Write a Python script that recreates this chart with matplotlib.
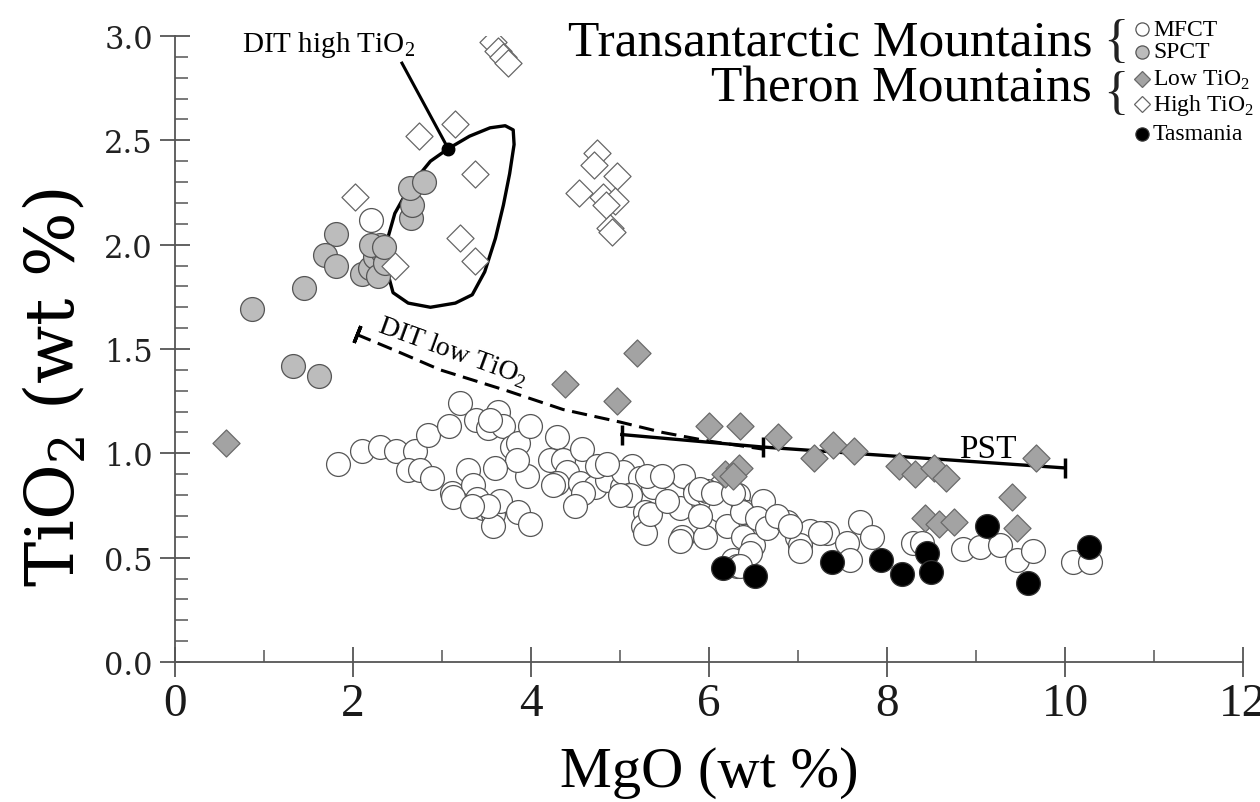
import numpy as np
import matplotlib
matplotlib.use('Agg')
import matplotlib.pyplot as plt
from matplotlib.ticker import MultipleLocator, FormatStrFormatter

plt.rcParams['font.family'] = 'Liberation Serif'
plt.rcParams['mathtext.fontset'] = 'custom'
plt.rcParams['mathtext.rm'] = 'Liberation Serif'

# MgO, TiO2 (wt %) for each suite
mfct_mgo = [1.83, 2.10, 2.30, 2.48, 2.70, 2.62, 2.75, 2.89, 2.84, 3.08, 3.20, 3.38, 3.52, 3.63,
            3.69, 3.79, 3.85, 3.99, 3.96, 3.84, 3.60, 3.29, 3.11, 3.35, 3.39, 3.46, 3.57, 3.65,
            3.85, 3.99, 3.57, 3.52, 4.29, 4.21, 4.36, 4.57, 4.40, 4.29, 4.55, 4.72, 4.85, 4.74,
            4.58, 4.49, 5.02, 5.13, 5.03, 5.22, 5.11, 5.28, 5.26, 5.28, 5.48, 5.60, 5.71, 5.67,
            5.84, 5.99, 6.12, 6.33, 6.29, 6.43, 6.61, 6.61, 5.70, 5.96, 6.12, 6.20, 6.38, 6.49,
            6.27, 6.46, 3.54, 4.25, 5.00, 5.37, 5.34, 5.67, 5.98, 6.37, 6.31, 4.85, 5.30, 5.47,
            5.90, 6.04, 5.53, 5.90, 6.27, 6.54, 6.65, 6.88, 6.99, 7.13, 7.33, 7.02, 7.55, 7.70,
            7.83, 7.58, 8.29, 8.39, 8.85, 9.04, 9.27, 9.46, 9.64, 10.09, 10.28, 6.35, 6.76, 6.91,
            7.25, 7.02, 2.20, 3.12, 3.34]
mfct_tio2 = [0.95, 1.01, 1.03, 1.01, 1.01, 0.92, 0.92, 0.88, 1.09, 1.13, 1.24, 1.16, 1.12, 1.20,
             1.13, 1.03, 1.05, 1.13, 0.89, 0.97, 0.93, 0.92, 0.81, 0.85, 0.78, 0.74, 0.71, 0.77,
             0.72, 0.66, 0.65, 0.75, 1.08, 0.97, 0.97, 1.02, 0.91, 0.86, 0.86, 0.84, 0.87, 0.94,
             0.81, 0.75, 0.84, 0.94, 0.91, 0.88, 0.80, 0.72, 0.65, 0.62, 0.84, 0.80, 0.89, 0.74,
             0.81, 0.80, 0.84, 0.80, 0.75, 0.72, 0.77, 0.65, 0.60, 0.60, 0.73, 0.65, 0.60, 0.56,
             0.49, 0.52, 1.16, 0.85, 0.80, 0.84, 0.71, 0.58, 0.82, 0.72, 0.46, 0.95, 0.89, 0.89,
             0.83, 0.81, 0.77, 0.70, 0.81, 0.69, 0.64, 0.67, 0.60, 0.63, 0.62, 0.56, 0.57, 0.67,
             0.60, 0.49, 0.57, 0.57, 0.54, 0.55, 0.56, 0.49, 0.53, 0.48, 0.48, 0.46, 0.70, 0.65,
             0.62, 0.53, 2.12, 0.79, 0.75]

spct_mgo = [0.87, 1.45, 1.33, 1.62, 1.81, 1.68, 1.81, 2.10, 2.19, 2.25, 2.33, 2.28, 2.36, 2.30,
            2.20, 2.65, 2.66, 2.64, 2.80, 2.35]
spct_tio2 = [1.69, 1.79, 1.42, 1.37, 2.05, 1.95, 1.90, 1.86, 1.89, 1.94, 1.97, 1.85, 1.91, 2.00,
             2.00, 2.13, 2.19, 2.27, 2.30, 1.99]

low_mgo = [0.57, 4.38, 4.97, 5.19, 6.00, 6.35, 6.78, 7.18, 7.39, 7.63, 8.13, 8.31, 8.53, 8.66,
           9.67, 9.40, 9.46, 8.43, 8.58, 8.75, 6.18, 6.34, 6.27]
low_tio2 = [1.05, 1.33, 1.25, 1.48, 1.13, 1.13, 1.08, 0.98, 1.04, 1.01, 0.94, 0.90, 0.93, 0.88,
            0.98, 0.79, 0.64, 0.69, 0.66, 0.67, 0.90, 0.93, 0.89]

high_mgo = [2.02, 2.47, 3.57, 3.63, 3.69, 3.74, 2.74, 3.15, 3.37, 3.20, 3.37, 4.74, 4.71, 4.97,
            4.54, 4.81, 4.94, 4.84, 4.89, 4.91]
high_tio2 = [2.23, 1.90, 2.97, 2.93, 2.90, 2.87, 2.52, 2.58, 2.34, 2.03, 1.92, 2.44, 2.38, 2.33,
             2.25, 2.23, 2.21, 2.19, 2.08, 2.06]

tas_mgo = [6.16, 6.52, 7.38, 7.93, 8.17, 8.45, 8.49, 9.12, 9.58, 10.27]
tas_tio2 = [0.45, 0.41, 0.48, 0.49, 0.42, 0.52, 0.43, 0.65, 0.38, 0.55]

# DIT high-TiO2 field outline
dit_high_mgo = [2.38, 2.37, 2.47, 2.64, 2.87, 3.07, 3.31, 3.54, 3.71, 3.80, 3.81, 3.76, 3.69,
                3.60, 3.48, 3.34, 3.15, 2.87, 2.62, 2.45, 2.38]
dit_high_tio2 = [1.88, 2.00, 2.15, 2.28, 2.40, 2.46, 2.52, 2.56, 2.57, 2.55, 2.48, 2.34, 2.19,
                 2.03, 1.87, 1.76, 1.72, 1.70, 1.72, 1.77, 1.88]
dit_high_pt = (3.07, 2.46)
dit_high_leader = ([2.55, 3.07], [2.87, 2.46])

# DIT low-TiO2 trend and PST trend
dit_low_mgo = [2.04, 2.49, 2.98, 3.73, 4.36, 5.00, 5.48, 5.98, 6.61]
dit_low_tio2 = [1.57, 1.49, 1.40, 1.30, 1.21, 1.15, 1.10, 1.06, 1.02]
pst_mgo = [5.02, 6.61, 10.0]
pst_tio2 = [1.09, 1.03, 0.93]

W, H = 1260, 803
fig = plt.figure(figsize=(W / 100, H / 100), dpi=100)
ax = fig.add_axes([175 / W, 140 / H, 1068 / W, 626 / H])

# trend lines and field
ax.plot(dit_high_mgo, dit_high_tio2, color='black', lw=2.4, solid_joinstyle='round', zorder=2)
ax.plot(*dit_high_leader, color='black', lw=2.2, zorder=2)
ax.plot(*dit_high_pt, 'o', color='black', ms=9, zorder=2)
ax.plot(dit_low_mgo, dit_low_tio2, color='black', lw=2.2, ls=(0, (5, 2.5)), zorder=2)
ax.plot(dit_low_mgo[0], dit_low_tio2[0], marker=(2, 2, -22), color='black', ms=13, mew=2.5, zorder=2)
ax.plot(pst_mgo, pst_tio2, color='black', lw=2.4, zorder=2)
ax.plot(pst_mgo, pst_tio2, ls='none', marker='|', color='black', ms=14, mew=2.5, zorder=2)

circ = 295
dia = 190
ax.scatter(mfct_mgo, mfct_tio2, s=circ, facecolor='white', edgecolor='#555555', lw=0.9, zorder=3)
ax.scatter(spct_mgo, spct_tio2, s=circ, facecolor='#bcbcbc', edgecolor='#555555', lw=0.9, zorder=4)
ax.scatter(low_mgo, low_tio2, s=dia, marker='D', facecolor='#a3a3a3', edgecolor='#6a6a6a', lw=0.9, zorder=5)
ax.scatter(high_mgo, high_tio2, s=dia, marker='D', facecolor='white', edgecolor='#666666', lw=0.9, zorder=5)
ax.scatter(tas_mgo, tas_tio2, s=circ, facecolor='black', edgecolor='#333333', lw=0.9, zorder=6)

ax.text(1.73, 2.96, r'DIT high TiO$_\mathregular{2}$', fontsize=21, ha='center', va='center')
ax.text(3.12, 1.49, r'DIT low TiO$_\mathregular{2}$', fontsize=20, ha='center', va='center',
        rotation=-20, rotation_mode='anchor')
ax.text(9.13, 1.02, 'PST', fontsize=24, ha='center', va='center')

# axes styling
ax.set_xlim(0, 12)
ax.set_ylim(0, 3)
for side in ['top', 'right']:
    ax.spines[side].set_visible(False)
for side in ['left', 'bottom']:
    ax.spines[side].set_color('#555555')
    ax.spines[side].set_linewidth(1.3)
ax.set_xticks(np.arange(0, 13, 2))
ax.xaxis.set_minor_locator(MultipleLocator(1))
ax.yaxis.set_major_locator(MultipleLocator(0.5))
ax.yaxis.set_minor_locator(MultipleLocator(0.1))
ax.yaxis.set_major_formatter(FormatStrFormatter('%.1f'))
ax.tick_params(which='major', direction='inout', length=22, width=1.3, color='#555555')
ax.tick_params(which='minor', direction='in', length=9, width=1.1, color='#555555')
ax.tick_params(axis='x', which='major', labelsize=34, pad=4, labelcolor='#1a1a1a')
ax.tick_params(axis='y', which='major', labelsize=22, pad=5, labelcolor='#222222')
for lab in ax.get_yticklabels():
    lab.set_family('DejaVu Serif')

ax.text(0.5, -0.175, 'MgO (wt %)', transform=ax.transAxes, fontsize=42, ha='center', va='center')
ax.text(-0.112, 0.44, r'TiO$_\mathregular{2}$ (wt %)', transform=ax.transAxes, fontsize=49,
        family='DejaVu Serif', rotation=90, ha='center', va='center')

# group legend in the upper right
def fx(px):
    return px / W

def fy(py):
    return 1 - py / H

fig.text(fx(1092), fy(55), 'Transantarctic Mountains', fontsize=37, ha='right', va='baseline')
fig.text(fx(1092), fy(102), 'Theron Mountains', fontsize=37, ha='right', va='baseline')
fig.text(fx(1116), fy(43), '{', fontsize=38, ha='center', va='center', color='#222222')
fig.text(fx(1116), fy(95), '{', fontsize=38, ha='center', va='center', color='#222222')

leg_rows = [
    ('MFCT', 30, 'o', 'white', '#555555', 9.5),
    ('SPCT', 53, 'o', '#bcbcbc', '#555555', 9.5),
    (r'Low TiO$_\mathregular{2}$', 80, 'D', '#a3a3a3', '#6a6a6a', 8),
    (r'High TiO$_\mathregular{2}$', 105, 'D', 'white', '#666666', 8),
    ('Tasmania', 135, 'o', 'black', '#333333', 9.5),
]
for label, py, mk, fc, ec, ms in leg_rows:
    fig.lines.append(plt.Line2D([fx(1142)], [fy(py)], marker=mk, ms=ms, mfc=fc, mec=ec, mew=0.9,
                                ls='none', transform=fig.transFigure))
    fig.text(fx(1153), fy(py), label, fontsize=17, ha='left', va='center')

fig.savefig('out.png', dpi=100)
